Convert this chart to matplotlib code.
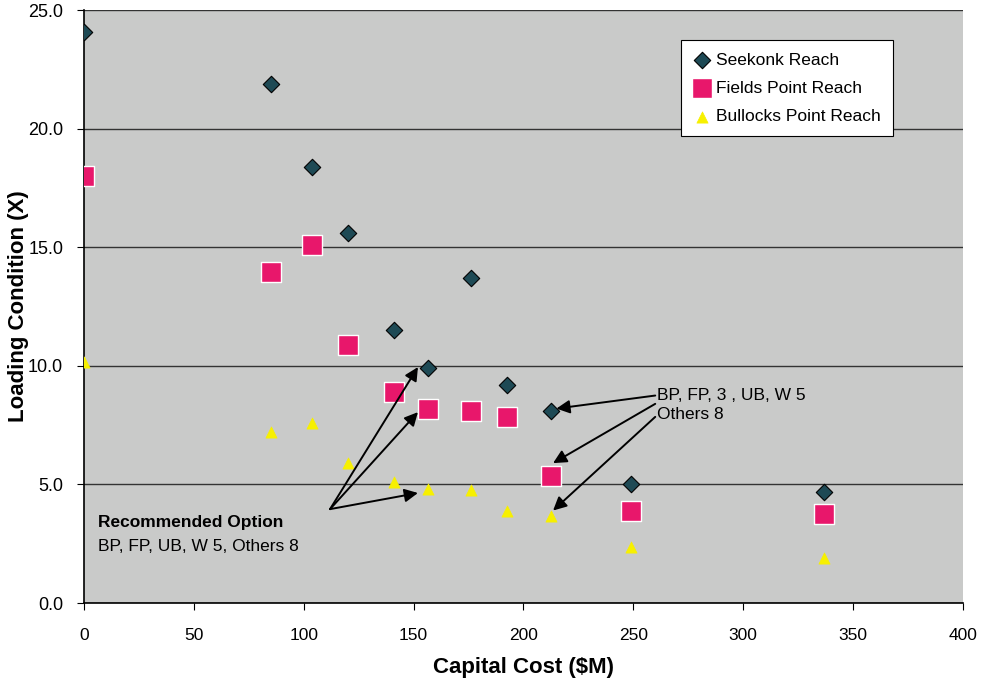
import matplotlib.pyplot as plt

plt.rcParams['font.family'] = ['Liberation Sans', 'DejaVu Sans']

cost = [0, 85, 104, 120, 141, 156.5, 176, 192.5, 212.5, 249, 337]
seekonk = [24.1, 21.9, 18.4, 15.6, 11.5, 9.9, 13.7, 9.2, 8.1, 5.0, 4.7]
fields_pt = [18.0, 13.95, 15.1, 10.9, 8.9, 8.2, 8.1, 7.85, 5.35, 3.9, 3.75]
bullocks_pt = [10.15, 7.2, 7.6, 5.9, 5.1, 4.8, 4.75, 3.9, 3.65, 2.35, 1.9]

fig = plt.figure(figsize=(9.82, 6.8), dpi=100)
ax = fig.add_axes([0.0855, 0.1132, 0.895, 0.8718])
ax.set_facecolor('#c9cac9')

ax.scatter(cost, seekonk, marker='D', s=70, color='#1e4a55', edgecolors='black',
           linewidths=0.8, label='Seekonk Reach', zorder=4)
ax.scatter(cost, fields_pt, marker='s', s=210, color='#e8176b', edgecolors='white',
           linewidths=1.0, label='Fields Point Reach', zorder=3)
ax.scatter(cost, bullocks_pt, marker='^', s=65, color='#f7f000', edgecolors='#f7f000',
           linewidths=0.5, label='Bullocks Point Reach', zorder=3)

ax.set_xlim(0, 400)
ax.set_ylim(0, 25)
ax.set_xticks(range(0, 401, 50))
ax.set_yticks([0, 5, 10, 15, 20, 25])
ax.set_yticklabels(['%.1f' % v for v in [0, 5, 10, 15, 20, 25]])
ax.yaxis.grid(True, color='#333333', linewidth=1.0)
ax.set_axisbelow(True)
for s in ['top', 'right']:
    ax.spines[s].set_visible(False)
ax.spines['left'].set_linewidth(1.2)
ax.spines['bottom'].set_linewidth(1.2)
ax.tick_params(axis='x', direction='out', length=5, pad=13, labelsize=12.5)
ax.tick_params(axis='y', direction='out', length=5, pad=10, labelsize=13)

ax.set_xlabel('Capital Cost ($M)', fontsize=16, fontweight='bold', labelpad=10)
ax.set_ylabel('Loading Condition (X)', fontsize=16, fontweight='bold')
ax.yaxis.set_label_coords(-0.062, 0.5)

leg = ax.legend(loc='upper right', bbox_to_anchor=(0.920, 0.949), borderaxespad=0,
                fontsize=12.5, frameon=True, fancybox=False, edgecolor='black',
                framealpha=1, borderpad=0.7, labelspacing=0.75, handletextpad=0.3,
                handlelength=1.0)
leg.get_frame().set_linewidth(0.8)

ax.text(6.5, 3.4, 'Recommended Option', fontsize=12.5, fontweight='bold', va='center')
ax.text(6.5, 2.4, 'BP, FP, UB, W 5, Others 8', fontsize=12.5, va='center')
arrow = dict(arrowstyle='-|>', color='black', lw=1.4, mutation_scale=20, shrinkA=0, shrinkB=0)
for hx, hy in [(152, 9.95), (152, 8.05), (152, 4.64)]:
    ax.annotate('', xy=(hx, hy), xytext=(112, 3.96), arrowprops=arrow)

ax.text(261, 8.75, 'BP, FP, 3 , UB, W 5', fontsize=12.5, va='center')
ax.text(261, 7.95, 'Others 8', fontsize=12.5, va='center')
for (tx, ty), (hx, hy) in [((260, 8.75), (215, 8.2)), ((260, 8.4), (213.5, 5.9)),
                           ((260, 7.85), (213.5, 3.9))]:
    ax.annotate('', xy=(hx, hy), xytext=(tx, ty), arrowprops=arrow)

fig.savefig('out.png', dpi=100)
